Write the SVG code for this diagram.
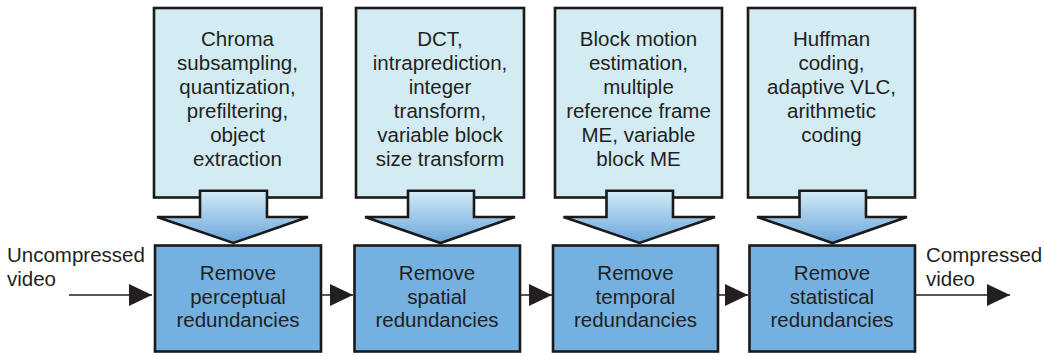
<svg xmlns="http://www.w3.org/2000/svg" width="1044" height="356" viewBox="0 0 1044 356">
  <defs>
    <linearGradient id="arrowGrad" x1="0" y1="0" x2="0" y2="1">
      <stop offset="0" stop-color="#d3ebf5"/>
      <stop offset="1" stop-color="#6aa6dc"/>
    </linearGradient>
    <marker id="head" viewBox="0 0 23 22" refX="23" refY="11" markerWidth="23" markerHeight="22" markerUnits="userSpaceOnUse" orient="auto">
      <path d="M0,0 L23,11 L0,22 Z" fill="#231f20"/>
    </marker>
  </defs>
  <style>
    .top { fill: #d3ebf3; stroke: #1a1a1a; stroke-width: 2.6; }
    .bot { fill: #74b1e1; stroke: #1a1a1a; stroke-width: 2.6; }
    .blk { fill: url(#arrowGrad); stroke: #1a1a1a; stroke-width: 2.6; stroke-linejoin: miter; }
    text { font-family: "Liberation Sans", Arial, sans-serif; font-size: 20.5px; fill: #231f20; }
    .c { text-anchor: middle; }
    .conn { stroke: #231f20; stroke-width: 1.5; fill: none; }
  </style>

  <g id="src1">
    <rect class="top" x="154" y="8" width="167.5" height="189.5"/>
    <text class="c" y="46"><tspan x="237.5">Chroma</tspan><tspan x="237.5" dy="24">subsampling,</tspan><tspan x="237.5" dy="24">quantization,</tspan><tspan x="237.5" dy="24">prefiltering,</tspan><tspan x="237.5" dy="24">object</tspan><tspan x="237.5" dy="24">extraction</tspan></text>
  </g>
  <g id="src2">
    <rect class="top" x="356" y="8" width="168" height="189.5"/>
    <text class="c" y="46"><tspan x="440">DCT,</tspan><tspan x="440" dy="24">intraprediction,</tspan><tspan x="440" dy="24">integer</tspan><tspan x="440" dy="24">transform,</tspan><tspan x="440" dy="24">variable block</tspan><tspan x="440" dy="24">size transform</tspan></text>
  </g>
  <g id="src3">
    <rect class="top" x="555" y="8" width="167" height="189.5"/>
    <text class="c" y="46"><tspan x="638.5">Block motion</tspan><tspan x="638.5" dy="24">estimation,</tspan><tspan x="638.5" dy="24">multiple</tspan><tspan x="638.5" dy="24">reference frame</tspan><tspan x="638.5" dy="24">ME, variable</tspan><tspan x="638.5" dy="24">block ME</tspan></text>
  </g>
  <g id="src4">
    <rect class="top" x="748" y="8" width="167" height="189.5"/>
    <text class="c" y="46"><tspan x="831.5">Huffman</tspan><tspan x="831.5" dy="24">coding,</tspan><tspan x="831.5" dy="24">adaptive VLC,</tspan><tspan x="831.5" dy="24">arithmetic</tspan><tspan x="831.5" dy="24">coding</tspan></text>
  </g>

  <g id="down1">
    <path class="blk" d="M200,190.7 H267 V217 H308 L233.3,243 L157,217 H200 Z"/>
  </g>
  <g id="down2">
    <path class="blk" d="M408,190.7 H474 V217 H515 L440.5,243 L365,217 H408 Z"/>
  </g>
  <g id="down3">
    <path class="blk" d="M606.5,190.7 H673 V217 H715 L639.5,243 L563.5,217 H606.5 Z"/>
  </g>
  <g id="down4">
    <path class="blk" d="M799.5,190.7 H866 V217 H907 L832.5,243 L757,217 H799.5 Z"/>
  </g>

  <g id="stage1">
    <rect class="bot" x="155" y="245.5" width="166" height="106"/>
    <text class="c" y="280"><tspan x="238">Remove</tspan><tspan x="238" dy="23.5">perceptual</tspan><tspan x="238" dy="23.5">redundancies</tspan></text>
  </g>
  <g id="stage2">
    <rect class="bot" x="354.5" y="245.5" width="165.5" height="106"/>
    <text class="c" y="280"><tspan x="437">Remove</tspan><tspan x="437" dy="23.5">spatial</tspan><tspan x="437" dy="23.5">redundancies</tspan></text>
  </g>
  <g id="stage3">
    <rect class="bot" x="553" y="245.5" width="165" height="106"/>
    <text class="c" y="280"><tspan x="635.5">Remove</tspan><tspan x="635.5" dy="23.5">temporal</tspan><tspan x="635.5" dy="23.5">redundancies</tspan></text>
  </g>
  <g id="stage4">
    <rect class="bot" x="749.5" y="245.5" width="165.5" height="106"/>
    <text class="c" y="280"><tspan x="832">Remove</tspan><tspan x="832" dy="23.5">statistical</tspan><tspan x="832" dy="23.5">redundancies</tspan></text>
  </g>

  <g id="input-label">
    <text y="262"><tspan x="7">Uncompressed</tspan><tspan x="7" dy="23.5">video</tspan></text>
  </g>
  <g id="output-label">
    <text y="262"><tspan x="926">Compressed</tspan><tspan x="926" dy="23.5">video</tspan></text>
  </g>

  <g id="connectors">
    <line class="conn" x1="69" y1="295" x2="152" y2="295" marker-end="url(#head)"/>
    <line class="conn" x1="322" y1="295" x2="353" y2="295" marker-end="url(#head)"/>
    <line class="conn" x1="521" y1="295" x2="552" y2="295" marker-end="url(#head)"/>
    <line class="conn" x1="719" y1="295" x2="748" y2="295" marker-end="url(#head)"/>
    <line class="conn" x1="916" y1="295" x2="1010" y2="295" marker-end="url(#head)"/>
  </g>
</svg>
